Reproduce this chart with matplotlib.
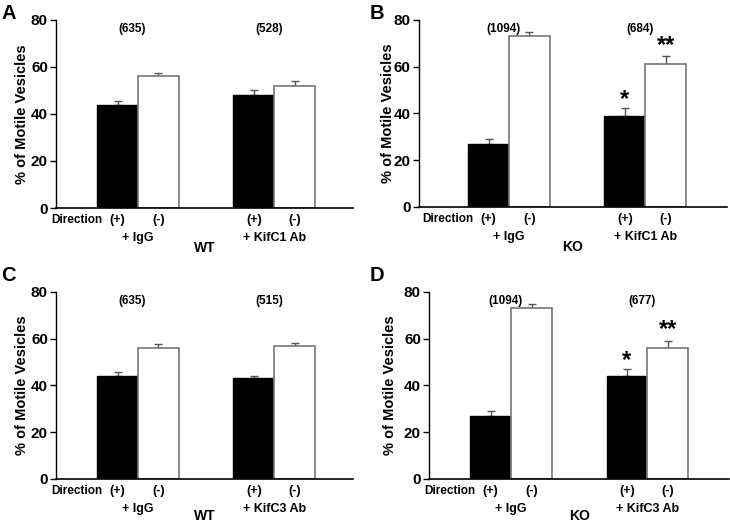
import matplotlib
matplotlib.use("Agg")
import matplotlib.pyplot as plt

plt.rcParams['font.family'] = ['Liberation Sans', 'DejaVu Sans']
plt.rcParams['font.weight'] = 'bold'

# data, one entry per panel A-D
panel_letters = ["A", "B", "C", "D"]
genotypes = ["WT", "KO", "WT", "KO"]
antibodies = ["+ KifC1 Ab", "+ KifC1 Ab", "+ KifC3 Ab", "+ KifC3 Ab"]
group_names = ["+ IgG", None]  # second name comes from antibodies
plus_vals = [[44, 48], [27, 39], [44, 43], [27, 44]]
plus_err = [[1.5, 2.2], [2.1, 3.3], [1.7, 1.0], [2.0, 3.0]]
minus_vals = [[56, 52], [73, 61], [56, 57], [73, 56]]
minus_err = [[1.6, 2.2], [2.0, 3.6], [1.9, 1.1], [2.0, 3.2]]
counts = [["(635)", "(528)"], ["(1094)", "(684)"], ["(635)", "(515)"], ["(1094)", "(677)"]]
plus_stars = [["", ""], ["", "*"], ["", ""], ["", "*"]]
minus_stars = [["", ""], ["", "**"], ["", ""], ["", "**"]]
yticks = [0, 20, 40, 60, 80]

fig = plt.figure(figsize=(7.3, 5.24), dpi=100)
boxes = [
    [0.077, 0.603, 0.407, 0.359],
    [0.574, 0.605, 0.422, 0.357],
    [0.077, 0.086, 0.407, 0.357],
    [0.588, 0.086, 0.411, 0.357],
]
xlims = [(0.4, 2.58), (0.34, 2.6), (0.4, 2.58), (0.4, 2.6)]
ylabel_x = [-0.091, -0.078, -0.091, -0.107]
genotype_y = [-0.215, -0.215, -0.2, -0.2]
letter_pos = [(0.012, 0.993), (0.516, 0.993), (0.012, 0.493), (0.516, 0.493)]

w = 0.3
groups = [1, 2]
for i in range(4):
    ax = fig.add_axes(boxes[i])
    xp = [g - w / 2 for g in groups]
    xm = [g + w / 2 for g in groups]
    ax.bar(xp, plus_vals[i], width=w, color="black", edgecolor="black", linewidth=1, zorder=2)
    ax.bar(xm, minus_vals[i], width=w, color="white", edgecolor="#777777", linewidth=1.2, zorder=2)
    ax.errorbar(xp, plus_vals[i], yerr=[[0, 0], plus_err[i]], fmt="none",
                ecolor="#555555", elinewidth=1, capsize=3, zorder=1)
    ax.errorbar(xm, minus_vals[i], yerr=[[0, 0], minus_err[i]], fmt="none",
                ecolor="#555555", elinewidth=1, capsize=3, zorder=1)

    for j, g in enumerate(groups):
        ax.text(g - 0.04, 76, counts[i][j], ha="center", va="center", fontsize=8.5, fontweight="bold")
        if plus_stars[i][j]:
            ax.text(xp[j], plus_vals[i][j] + plus_err[i][j] + 3.5, plus_stars[i][j],
                    ha="center", va="center", fontsize=17, fontweight="bold")
        if minus_stars[i][j]:
            ax.text(xm[j], minus_vals[i][j] + minus_err[i][j] + 4.5, minus_stars[i][j],
                    ha="center", va="center", fontsize=17, fontweight="bold")
        tr = ax.get_xaxis_transform()
        ax.text(xp[j], -0.066, "(+)", transform=tr, ha="center", va="center", fontsize=9)
        ax.text(xm[j], -0.066, "(-)", transform=tr, ha="center", va="center", fontsize=9)
        name = group_names[0] if j == 0 else antibodies[i]
        ax.text(g, -0.16, name, transform=tr, ha="center", va="center", fontsize=9)

    tr = ax.get_xaxis_transform()
    ax.text(xp[0] - 0.11, -0.066, "Direction", transform=tr, ha="right", va="center", fontsize=8.5)
    ax.text(0.5, genotype_y[i], genotypes[i], transform=ax.transAxes, ha="center", va="center", fontsize=10)

    ax.set_xlim(*xlims[i])
    ax.set_ylim(0, 80)
    ax.set_yticks(yticks)
    ax.set_xticks([])
    ax.tick_params(axis="y", labelsize=11, length=4, width=1, direction="out", pad=2)
    for lab in ax.get_yticklabels():
        lab.set_fontweight("bold")
    ax.set_ylabel("% of Motile Vesicles", fontsize=10.5, fontweight="bold")
    ax.yaxis.set_label_coords(ylabel_x[i], 0.5)
    ax.spines["top"].set_visible(False)
    ax.spines["right"].set_visible(False)
    ax.spines["left"].set_linewidth(1)
    ax.spines["bottom"].set_linewidth(1.2)

    fig.text(letter_pos[i][0], letter_pos[i][1], panel_letters[i], fontsize=14.5,
             fontweight="bold", ha="center", va="top")

fig.savefig("out.png", dpi=100)
